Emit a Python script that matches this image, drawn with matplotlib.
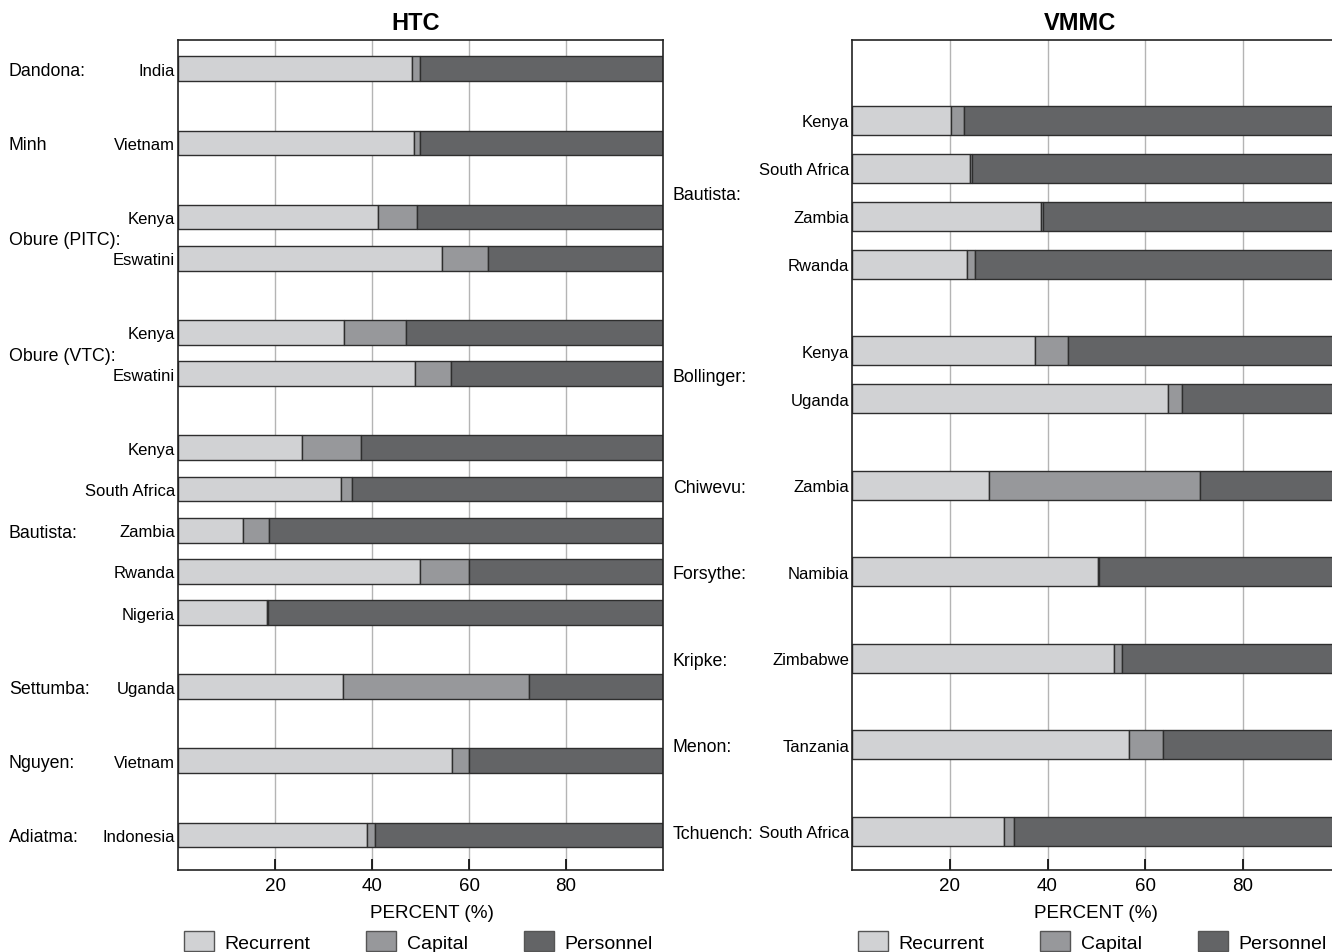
import numpy as np
import matplotlib
matplotlib.use("Agg")
import matplotlib.pyplot as plt
from matplotlib.patches import Patch
from matplotlib import transforms

plt.rcParams['font.family'] = ['Liberation Sans', 'DejaVu Sans']

# HTC studies
htc_authors = ["Dandona:", "Minh", "Obure (PITC):", "Obure (VTC):",
               "Bautista:", "Settumba:", "Nguyen:", "Adiatma:"]
htc_sizes = [1, 1, 2, 2, 5, 1, 1, 1]
htc_countries = ["India", "Vietnam", "Kenya", "Eswatini", "Kenya", "Eswatini",
                 "Kenya", "South Africa", "Zambia", "Rwanda", "Nigeria",
                 "Uganda", "Vietnam", "Indonesia"]
htc_recurrent = [48.3, 48.7, 41.3, 54.4, 34.2, 48.9, 25.5, 33.7, 13.5, 49.8,
                 18.3, 34.1, 56.5, 39.0]
htc_capital = [1.5, 1.2, 7.9, 9.5, 12.8, 7.4, 12.2, 2.2, 5.3, 10.2, 0.3,
               38.3, 3.4, 1.7]
htc_personnel = [50.2, 50.1, 50.8, 36.1, 53.0, 43.7, 62.3, 64.1, 81.2, 40.0,
                 81.4, 27.6, 40.1, 59.3]

# VMMC studies
vmmc_authors = ["Bautista:", "Bollinger:", "Chiwevu:", "Forsythe:", "Kripke:",
                "Menon:", "Tchuench:"]
vmmc_sizes = [4, 2, 1, 1, 1, 1, 1]
vmmc_countries = ["Kenya", "South Africa", "Zambia", "Rwanda", "Kenya",
                  "Uganda", "Zambia", "Namibia", "Zimbabwe", "Tanzania",
                  "South Africa"]
vmmc_recurrent = [20.3, 24.2, 38.7, 23.5, 37.4, 64.7, 28.1, 50.3, 53.7, 56.6,
                  31.0]
vmmc_capital = [2.7, 0.3, 0.3, 1.7, 6.7, 2.8, 43.1, 0.2, 1.6, 7.1, 2.1]
vmmc_personnel = [77.0, 75.5, 61.0, 74.8, 55.9, 32.5, 28.8, 49.5, 44.7, 36.3,
                  66.9]

components = ["Recurrent", "Capital", "Personnel"]
colors = ["#d1d2d4", "#97989b", "#636466"]
edge = "#2e2e2e"

W, H = 1332, 953
fig = plt.figure(figsize=(W / 100, H / 100), dpi=100)


def positions(sizes, gap=0.8):
    ys, centers, y = [], [], 0.0
    for n in sizes:
        grp = [y + i for i in range(n)]
        ys.extend(grp)
        centers.append(np.mean(grp))
        y = grp[-1] + 1 + gap
    return np.array(ys), centers


def panel(rect, title, authors, sizes, countries, rec, cap, per,
          top_pad, bot_pad, label_x, title_x, xlabel_x):
    ax = fig.add_axes(rect)
    ys, centers = positions(sizes)
    left = np.zeros(len(ys))
    for vals, c in zip([rec, cap, per], colors):
        ax.barh(ys, vals, left=left, height=0.6, color=c, edgecolor=edge,
                linewidth=1.0, zorder=2)
        left = left + np.array(vals)
    ax.set_xlim(0, 100)
    ax.set_ylim(ys[-1] + bot_pad, -top_pad)
    ax.set_xticks([20, 40, 60, 80])
    ax.set_yticks(ys)
    ax.set_yticklabels(countries, fontsize=12)
    ax.tick_params(axis='y', length=0, pad=2)
    ax.tick_params(axis='x', direction='in', length=8, width=1.2,
                   labelsize=13.5, pad=5)
    ax.grid(axis='x', color='#b4b4b4', linewidth=1.0, zorder=0)
    ax.set_axisbelow(True)
    for s in ax.spines.values():
        s.set_color('#222222')
        s.set_linewidth(1.2)
    ax.set_xlabel("PERCENT (%)", fontsize=13.6, labelpad=7.5, x=xlabel_x)
    ax.set_title(title, fontsize=17, fontweight='bold', pad=8, x=title_x)

    tr = transforms.blended_transform_factory(fig.transFigure, ax.transData)
    for name, yc in zip(authors, centers):
        fig.text(label_x / W, yc, name, transform=tr, fontsize=12.8,
                 ha='left', va='center_baseline')

    handles = [Patch(facecolor=c, edgecolor='#555555', linewidth=1.0, label=l)
               for c, l in zip(colors, components)]
    ax.legend(handles=handles, ncol=3, frameon=False, loc='upper left',
              bbox_to_anchor=((rect[0] * W + 6) / W, 1 - 932 / H),
              bbox_transform=fig.transFigure, borderaxespad=0, borderpad=0,
              fontsize=14, handlelength=1.55, handleheight=1.2,
              handletextpad=0.55, columnspacing=2.85)
    return ax


panel([178 / W, 1 - 871 / H, 485 / W, 830 / H], "HTC", htc_authors,
      htc_sizes, htc_countries, htc_recurrent, htc_capital, htc_personnel,
      top_pad=0.7, bot_pad=0.85, label_x=9, title_x=0.489, xlabel_x=0.524)
panel([852 / W, 1 - 871 / H, 488.8 / W, 830 / H], "VMMC", vmmc_authors,
      vmmc_sizes, vmmc_countries, vmmc_recurrent, vmmc_capital, vmmc_personnel,
      top_pad=1.67, bot_pad=0.81, label_x=673, title_x=0.466, xlabel_x=0.5)

fig.savefig("out.png", dpi=100)
